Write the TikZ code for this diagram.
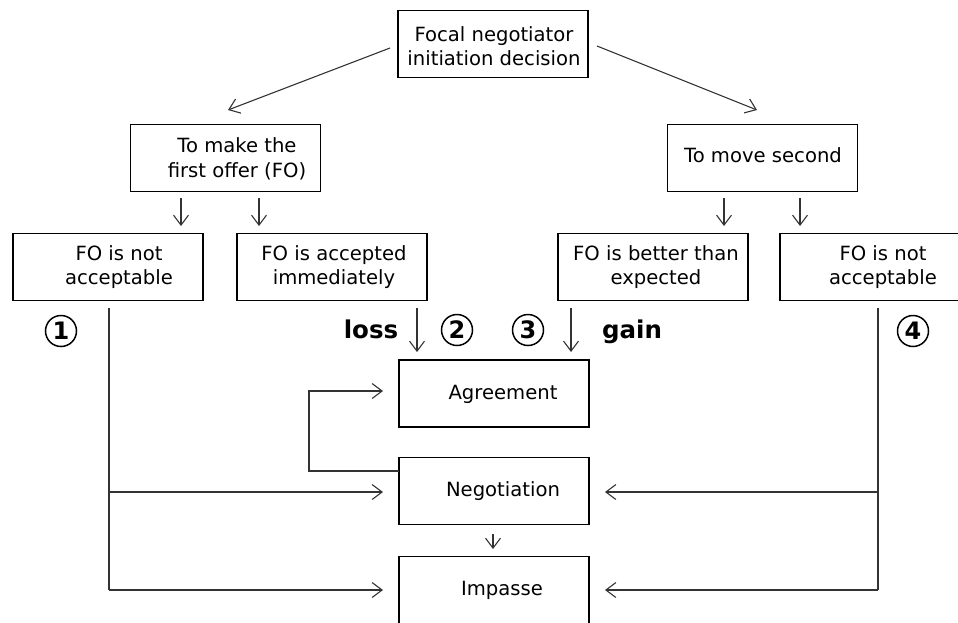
\documentclass[tikz,border=0pt]{standalone}
\usepackage{fontspec}
\setmainfont{DejaVu Sans}
\usetikzlibrary{arrows.meta}
\begin{document}
\begin{tikzpicture}[x=1pt,y=-1pt,
  box/.style={draw=black,line width=1.8pt,minimum width=190pt,minimum height=67pt,inner sep=0pt},
  txt/.style={font=\fontsize{19.6}{24.5}\selectfont,align=center,inner sep=0pt},
  conn/.style={draw=black!80,line width=1.1pt},
  arr/.style={conn,-{Straight Barb[length=10pt,width=15pt,line width=1.1pt]}},
  lbl/.style={font=\fontsize{24.5}{28}\selectfont\bfseries,inner sep=0pt},
  num/.style={circle,draw=black,line width=1.5pt,minimum size=31pt,inner sep=0pt,font=\fontsize{24}{26}\selectfont\bfseries}]
\clip (0,0) rectangle (958,622);
% boxes
\node[box] (top) at (493,44) {};
\node[txt] (topT) at (494,46) {Focal negotiator\\initiation decision};
\node[box] (fo) at (225.5,158) {};
\node[txt] (foT) at (237,159) {To make the\\first offer (FO)};
\node[box] (second) at (762.5,158) {};
\node[txt] (secondT) at (763,155) {To move second};
\node[box] (notL) at (108,267) {};
\node[txt] (notLT) at (119,267) {FO is not\\acceptable};
\node[box] (acc) at (332,267) {};
\node[txt] (accT) at (334,267) {FO is accepted\\immediately};
\node[box] (better) at (653,267) {};
\node[txt] (betterT) at (656,267) {FO is better than\\expected};
\node[box] (notR) at (875,267) {};
\node[txt] (notRT) at (883,267) {FO is not\\acceptable};
\node[box] (agree) at (494,393.5) {};
\node[txt] (agreeT) at (503,394) {Agreement};
\node[box] (nego) at (494,491) {};
\node[txt] (negoT) at (503,491.5) {Negotiation};
\node[box] (imp) at (494,590) {};
\node[txt] (impT) at (502,590) {Impasse};
% labels
\node[num] (n1) at (61,331) {1};
\node[num] (n2) at (457,330) {2};
\node[num] (n3) at (528,330) {3};
\node[num] (n4) at (913,331) {4};
\node[lbl,anchor=base] (loss) at (371,338) {loss};
\node[lbl,anchor=base] (gain) at (632,338) {gain};
% coordinates
\coordinate (t1s) at (390,48); \coordinate (t1e) at (228,110);
\coordinate (t2s) at (597,46); \coordinate (t2e) at (757,110);
\coordinate (f1s) at (181,198); \coordinate (f1e) at (181,226);
\coordinate (f2s) at (259,198); \coordinate (f2e) at (259,226);
\coordinate (s1s) at (724,198); \coordinate (s1e) at (724,226);
\coordinate (s2s) at (800,198); \coordinate (s2e) at (800,226);
\coordinate (ls) at (417,308); \coordinate (le) at (417,352);
\coordinate (gs) at (571,308); \coordinate (ge) at (571,352);
\coordinate (L0) at (109,308); \coordinate (L1) at (109,492); \coordinate (L2) at (109,590);
\coordinate (R0) at (878,308); \coordinate (R1) at (878,492); \coordinate (R2) at (878,590);
\coordinate (LA) at (383,492); \coordinate (LB) at (383,590);
\coordinate (RA) at (605,492); \coordinate (RB) at (605,590);
\coordinate (fb0) at (399,471); \coordinate (fb1) at (309,471); \coordinate (fb2) at (309,391); \coordinate (fb3) at (383,391);
\coordinate (ni0) at (493,534); \coordinate (ni1) at (493,549);
% connectors
\draw[arr] (t1s) -- (t1e);
\draw[arr] (t2s) -- (t2e);
\draw[arr] (f1s) -- (f1e);
\draw[arr] (f2s) -- (f2e);
\draw[arr] (s1s) -- (s1e);
\draw[arr] (s2s) -- (s2e);
\draw[arr] (ls) -- (le);
\draw[arr] (gs) -- (ge);
\draw[conn] (L0) -- (L2);
\draw[arr] (L1) -- (LA);
\draw[arr] (L2) -- (LB);
\draw[conn] (R0) -- (R2);
\draw[arr] (R1) -- (RA);
\draw[arr] (R2) -- (RB);
\draw[arr] (fb0) -- (fb1) -- (fb2) -- (fb3);
\draw[arr] (ni0) -- (ni1);
\end{tikzpicture}
\end{document}
